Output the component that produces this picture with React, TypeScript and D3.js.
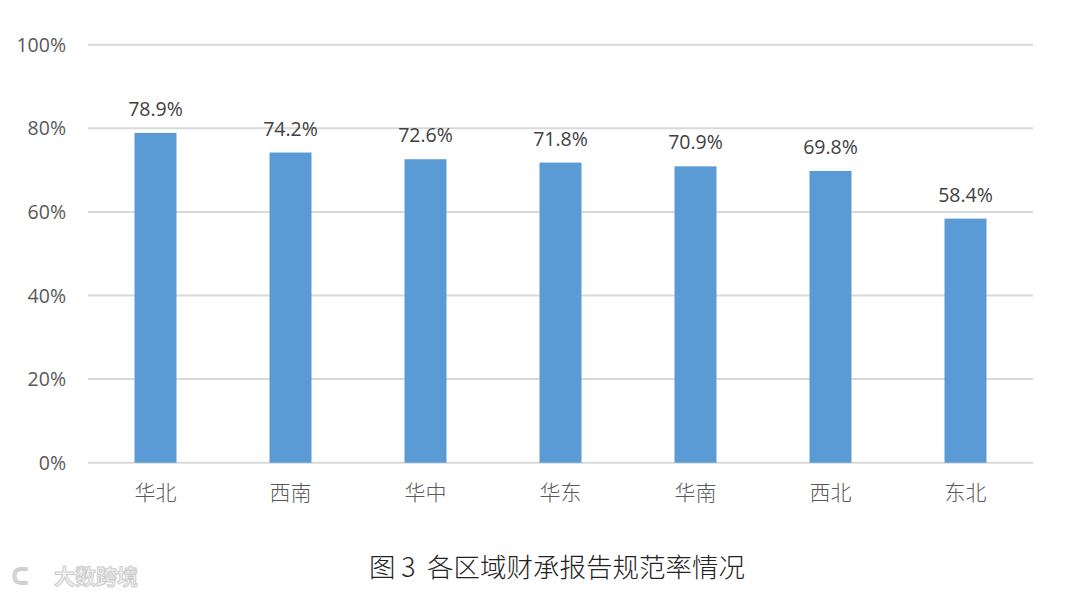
import React from "react";
import * as d3 from "d3";

const categories = ["华北", "西南", "华中", "华东", "华南", "西北", "东北"];
const values = [78.9, 74.2, 72.6, 71.8, 70.9, 69.8, 58.4];
const yTicks = [0, 20, 40, 60, 80, 100];
const title = "图 3  各区域财承报告规范率情况";
const watermark = "大数跨境";

export default function App() {
  const W = 1080, H = 596;
  const x0 = 88, x1 = 1033, yTop = 44.7, yBot = 462.7;
  const x = d3.scaleBand<string>().domain(categories).range([x0, x1]).paddingInner(0.689).paddingOuter(0.3445);
  const y = d3.scaleLinear().domain([0, 100]).range([yBot, yTop]);
  const sans = "'Open Sans', 'Noto Sans', sans-serif";
  const cjk = "'Noto Sans CJK SC', sans-serif";
  return (
    <svg width={W} height={H} style={{ position: "absolute", left: 0, top: 0, background: "#fff" }}>
      <rect x={0} y={0} width={W} height={H} fill="#fff" />
      {yTicks.map((t) => (
        <g key={t}>
          <line x1={x0} x2={x1} y1={y(t)} y2={y(t)} stroke="#d9d9d9" strokeWidth={2} />
          <text x={66} y={y(t)} dy="0.36em" textAnchor="end" fontFamily={sans} fontSize={19.5} fill="#595959">
            {t}%
          </text>
        </g>
      ))}
      {categories.map((c, i) => (
        <g key={c}>
          <rect x={x(c)} y={y(values[i])} width={x.bandwidth()} height={yBot - y(values[i])} fill="#5b9bd5" />
          <text x={(x(c) as number) + x.bandwidth() / 2} y={y(values[i]) - 17} textAnchor="middle" fontFamily={sans} fontSize={19.5} fill="#404040">
            {values[i].toFixed(1)}%
          </text>
          <text x={(x(c) as number) + x.bandwidth() / 2} y={500} textAnchor="middle" fontFamily={cjk} fontWeight={300} fontSize={21} fill="#595959">
            {c}
          </text>
        </g>
      ))}
      <text x={557} y={577} textAnchor="middle" fontFamily={cjk} fontWeight={300} fontSize={26.5} fill="#222" style={{ whiteSpace: "pre" }}>
        {title}
      </text>
      <g>
        <text x={12} y={584} fontFamily={sans} fontWeight={700} fontSize={22} fill="#f2f2f2" stroke="#cfcfcf" strokeWidth={1}>
          ᑕ
        </text>
        <text x={54} y={584} fontFamily={cjk} fontWeight={700} fontSize={21} fill="#f4f4f4" stroke="#cccccc" strokeWidth={1}>
          {watermark}
        </text>
      </g>
    </svg>
  );
}
